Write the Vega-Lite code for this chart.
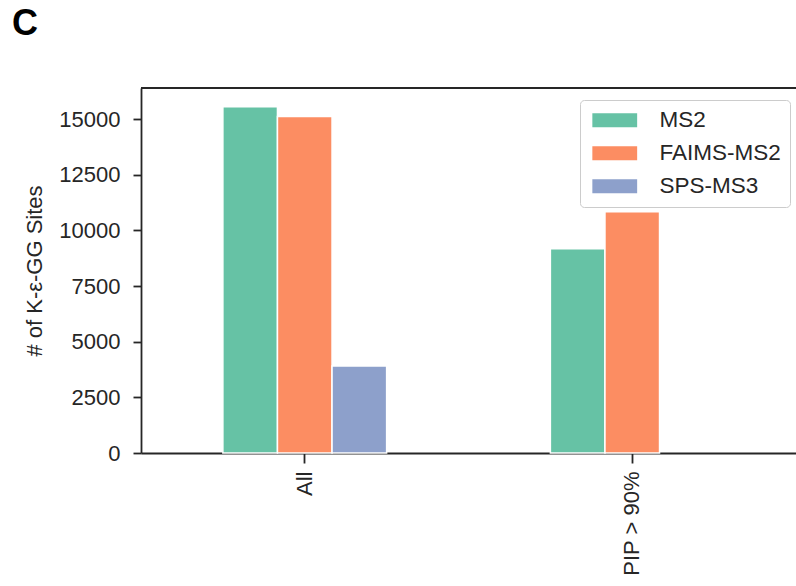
{
  "$schema": "https://vega.github.io/schema/vega-lite/v6.json",
  "width": 655,
  "height": 365,
  "autosize": {"type": "none"},
  "padding": {"left": 141, "top": 88, "right": 0, "bottom": 133},
  "background": "white",
  "title": {"text": "C", "anchor": "start", "frame": "group", "fontSize": 36, "fontWeight": "bold", "font": "Liberation Sans", "color": "black", "dx": -129, "offset": 44},
  "data": {"values": [
    {"group": "All", "method": "MS2", "count": 15560},
    {"group": "All", "method": "FAIMS-MS2", "count": 15120},
    {"group": "All", "method": "SPS-MS3", "count": 3905},
    {"group": "PIP > 90%", "method": "MS2", "count": 9180},
    {"group": "PIP > 90%", "method": "FAIMS-MS2", "count": 10840}
  ]},
  "layer": [
    {
      "mark": {"type": "bar", "stroke": "white", "strokeWidth": 1.5},
      "encoding": {
        "x": {"field": "group", "type": "nominal", "sort": ["All", "PIP > 90%"], "title": null,
          "scale": {"paddingInner": 0.5, "paddingOuter": 0.25},
          "axis": {"labelAngle": -90, "labelFontSize": 22, "labelColor": "#262626", "tickSize": 10, "tickWidth": 1.8, "tickColor": "#262626", "domainWidth": 1.8, "domainColor": "#262626", "labelPadding": 8}},
        "xOffset": {"field": "method", "type": "nominal", "sort": ["MS2", "FAIMS-MS2", "SPS-MS3"], "scale": {"domain": ["MS2", "FAIMS-MS2", "SPS-MS3"], "paddingInner": 0, "paddingOuter": 0}},
        "y": {"field": "count", "type": "quantitative", "title": "# of K-ε-GG Sites",
          "scale": {"domain": [0, 16400], "nice": false},
          "axis": {"values": [0, 2500, 5000, 7500, 10000, 12500, 15000], "format": "d", "grid": false, "labelFontSize": 22, "labelColor": "#262626", "tickSize": 8, "tickWidth": 1.8, "tickColor": "#262626", "domainWidth": 1.8, "domainColor": "#262626", "labelPadding": 13, "titleFontSize": 22, "titleFontWeight": "normal", "titleColor": "#262626", "titlePadding": 12}},
        "color": {"field": "method", "type": "nominal", "sort": ["MS2", "FAIMS-MS2", "SPS-MS3"],
          "scale": {"range": ["#66c2a5", "#fc8d62", "#8da0cb"]},
          "legend": {"orient": "none", "legendX": 439, "legendY": 12, "title": null, "labelFontSize": 22.5, "labelColor": "#262626", "symbolType": "M-3.2,-1H3.2V1H-3.2Z", "symbolSize": 196, "symbolStrokeWidth": 0, "symbolOpacity": 1, "symbolOffset": 14.5, "strokeColor": "#cccccc", "cornerRadius": 4, "padding": 9, "rowPadding": 10, "labelOffset": 33.5, "fillColor": "white"}}
      }
    },
    {
      "mark": {"type": "rule", "color": "#262626", "strokeWidth": 1.8},
      "encoding": {"y": {"datum": 16400}}
    }
  ],
  "config": {"view": {"stroke": null}, "font": "Liberation Sans"}
}
